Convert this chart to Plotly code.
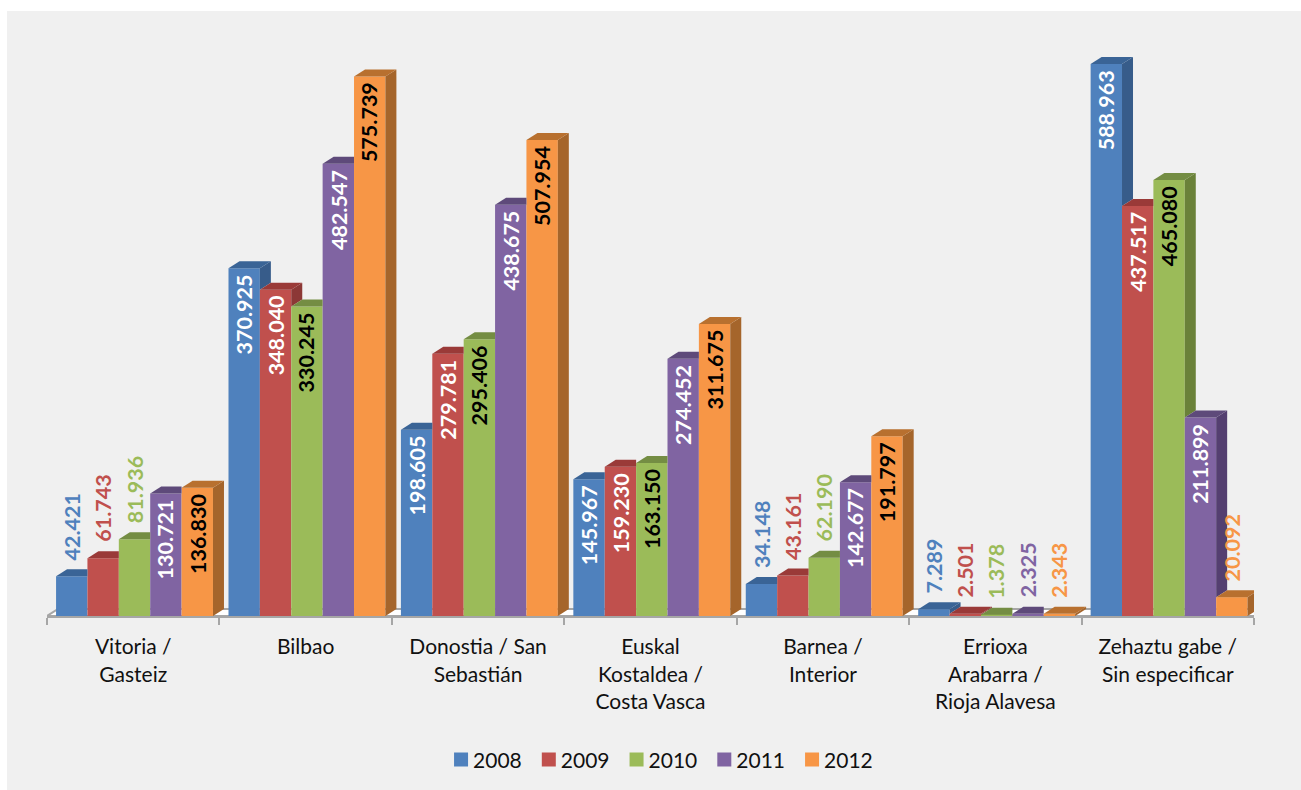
import plotly.graph_objects as go

categories = ["Vitoria /<br>Gasteiz", "Bilbao", "Donostia / San<br>Sebastián", "Euskal<br>Kostaldea /<br>Costa Vasca",
              "Barnea /<br>Interior", "Errioxa<br>Arabarra /<br>Rioja Alavesa", "Zehaztu gabe /<br>Sin especificar"]
years = ["2008", "2009", "2010", "2011", "2012"]
v2008 = [42421, 370925, 198605, 145967, 34148, 7289, 588963]
v2009 = [61743, 348040, 279781, 159230, 43161, 2501, 437517]
v2010 = [81936, 330245, 295406, 163150, 62190, 1378, 465080]
v2011 = [130721, 482547, 438675, 274452, 142677, 2325, 211899]
v2012 = [136830, 575739, 507954, 311675, 191797, 2343, 20092]
series = [v2008, v2009, v2010, v2011, v2012]

front = ["#4F81BD", "#C0504D", "#9BBB59", "#8064A2", "#F79646"]
top = ["#3A6496", "#9A3A38", "#748D43", "#5E4A7A", "#B8702F"]
side = ["#375C8A", "#8C3836", "#6A8139", "#543F70", "#A5652B"]
inside_text = ["white", "white", "black", "white", "black"]

# pixel geometry of the plot area
W, H = 1301, 790
L, R, T, B = 47, 1254, 12, 616
PX_PER_UNIT = 552 / 588963
YMAX = (B - T) / PX_PER_UNIT
GROUP_PX = (R - L) / 7
BAR_GAP = 0.09
BAR_W = (1 - BAR_GAP) / 5          # in group units
DX = 11 / GROUP_PX                 # depth in group units
DY = 7 / PX_PER_UNIT               # depth in value units
SHIFT = 1.3 / GROUP_PX

fig = go.Figure()
xs = list(range(7))


def bar_left(g, s):
    return g - (1 - BAR_GAP) / 2 + s * BAR_W + SHIFT


# front faces
for s, yr in enumerate(years):
    fig.add_trace(go.Bar(x=categories, y=series[s], name=yr, marker=dict(color=front[s], line=dict(width=0)),
                         width=BAR_W, offset=-(1 - BAR_GAP) / 2 + s * BAR_W + SHIFT,
                         xaxis="x", yaxis="y", hoverinfo="skip"))


def poly(pts, color):
    fig.add_trace(go.Scatter(x=[p[0] for p in pts] + [pts[0][0]], y=[p[1] for p in pts] + [pts[0][1]],
                             mode="lines", fill="toself", fillcolor=color, line=dict(width=0, color=color),
                             xaxis="x2", yaxis="y", showlegend=False, hoverinfo="skip"))


# floor, below the bars
fig.add_shape(type="path", xref="x2", yref="y", layer="below", fillcolor="#FFFFFF",
              line=dict(color="#A6A6A6", width=2),
              path=f"M -0.5 0 L {-0.5 + DX} {DY} L {6.5 + DX} {DY} L 6.5 0 Z")

# depth faces, clipped against the neighbouring bar
for g in xs:
    for s in range(5):
        xl = bar_left(g, s)
        xr = xl + BAR_W
        h = series[s][g]
        hn = series[s + 1][g] if s < 4 else 0
        if h > hn:
            poly([(xr, h), (xr + DX, h + DY), (xr + DX, hn + DY), (xr, hn)], side[s])
            poly([(xl, h), (xr, h), (xr + DX, h + DY), (xl + DX, h + DY)], top[s])
        else:
            poly([(xl, h), (xr, h), (xr, h + DY), (xl + DX, h + DY)], top[s])

# data labels
for g in xs:
    for s in range(5):
        h = series[s][g]
        xc = bar_left(g, s) + BAR_W / 2
        txt = f"{h // 1000}.{h % 1000:03d}"
        outside = h < 100000
        fig.add_annotation(x=xc, y=h, xref="x2", yref="y", text=f"<b>{txt}</b>",
                           showarrow=False, textangle=-90,
                           yanchor="bottom" if outside else "top",
                           yshift=14 if outside else -4,
                           font=dict(family="Lato, Carlito, sans-serif", size=21.5,
                                     color=front[s] if outside else inside_text[s]))

# page background panel
fig.add_shape(type="rect", xref="paper", yref="paper", layer="below", line=dict(width=0), fillcolor="#F0F0F0",
              x0=(7 - L) / (R - L), x1=(1301 - L) / (R - L),
              y0=(B - 790) / (B - T), y1=(B - 11) / (B - T))

fig.update_layout(
    width=W, height=H, margin=dict(l=L, r=W - R, t=T, b=H - B, autoexpand=False),
    paper_bgcolor="white", plot_bgcolor="rgba(0,0,0,0)",
    barmode="overlay", bargap=BAR_GAP, bargroupgap=0,
    font=dict(family="Lato, Carlito, sans-serif", size=21, color="#111111"),
    showlegend=True,
    legend=dict(orientation="h", x=0.5017, xanchor="center", xref="paper", y=-0.238, yanchor="middle",
                font=dict(size=21), entrywidth=42.75, entrywidthmode="pixels", traceorder="normal",
                bgcolor="rgba(0,0,0,0)"),
    xaxis=dict(type="category", categoryorder="array", categoryarray=categories, tickson="boundaries",
               range=[-0.5, 6.5], ticks="outside", ticklen=7, tickwidth=2, tickcolor="#A6A6A6",
               showline=True, linecolor="#A6A6A6", linewidth=2, showgrid=False, zeroline=False,
               tickangle=0, ticklabelstandoff=11, tickfont=dict(size=21, color="#111111")),
    xaxis2=dict(type="linear", overlaying="x", range=[-0.5, 6.5], visible=False, fixedrange=True),
    yaxis=dict(range=[0, YMAX], visible=False, fixedrange=True),
)

fig.write_html(
    "out.html", config=dict(displayModeBar=False),
    post_script=(
        "document.body.style.margin='0';document.body.style.overflow='hidden';"
        "document.querySelectorAll('.legendpoints').forEach(function(g){g.setAttribute('transform','translate(8,0)');});"
        "document.querySelectorAll('.legendpoints path').forEach(function(p){p.setAttribute('d','M7,7H-7V-7H7Z');});"
    ),
)
